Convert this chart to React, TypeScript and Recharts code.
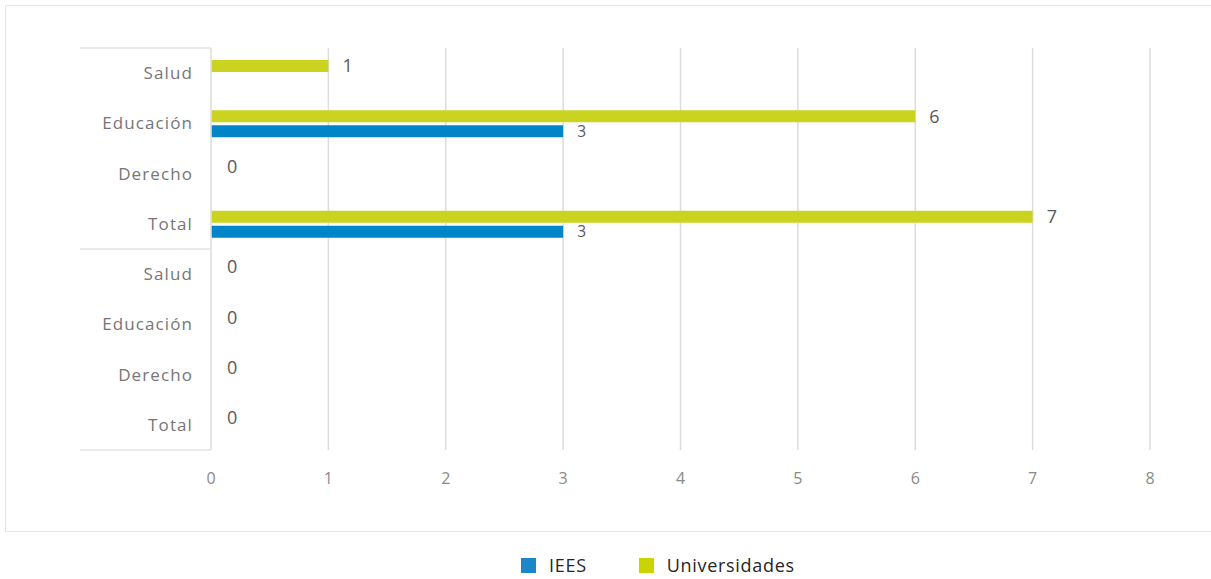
import React from "react";
import { BarChart, Bar, XAxis, YAxis, CartesianGrid, LabelList, Legend } from "recharts";

const categories = ["Salud", "Educación", "Derecho", "Total", "Salud", "Educación", "Derecho", "Total"];
const universidades: (number | null)[] = [1, 6, 0, 7, 0, 0, 0, 0];
const iees: (number | null)[] = [null, 3, null, 3, null, null, null, null];
const xTicks = [0, 1, 2, 3, 4, 5, 6, 7, 8];
const groupBreaks = [0, 3, 7]; // indices with separator lines (0 = top edge, others bottom edge)

const data = categories.map((c, i) => ({
  id: `${i}`,
  name: c,
  Universidades: universidades[i],
  IEES: iees[i],
}));

const W = 1211;
const H = 579;
const M = { top: 48, right: 61, bottom: 65, left: 0 };
const PLOT_H = 402;
const BAND = PLOT_H / categories.length;
const FONT = "'Open Sans', sans-serif";
const YELLOW = "#cad31f";
const BLUE = "#0086c8";

const YTick = (props: any) => {
  const { x, y, payload, index } = props;
  const label = categories[Number(payload.value)];
  const sepX1 = 80;
  const sepX2 = 211;
  return (
    <g>
      <text x={x} y={y} dy={6} textAnchor="end" fill="#767676" fontSize={17} fontFamily={FONT} letterSpacing={1.1}>
        {label}
      </text>
      {index === 0 && <line x1={sepX1} x2={sepX2} y1={y - BAND / 2} y2={y - BAND / 2} stroke="#e3e3e3" strokeWidth={1.5} />}
      {groupBreaks.slice(1).includes(index) && (
        <line x1={sepX1} x2={sepX2} y1={y + BAND / 2} y2={y + BAND / 2} stroke="#e3e3e3" strokeWidth={1.5} />
      )}
    </g>
  );
};

const makeLabel = (size: number) => (props: any) => {
  const { x, y, width, height, value } = props;
  if (value === null || value === undefined) return null;
  return (
    <text x={x + Math.max(width, 0) + 14 + (value === 0 ? 2 : 0)} y={y + height / 2} dy={size * 0.36} fill="#595959" fontSize={size} fontFamily={FONT}>
      {value}
    </text>
  );
};

const LegendContent = () => (
  <div style={{ display: "flex", justifyContent: "flex-start", paddingLeft: 521, fontFamily: FONT, fontSize: 18, color: "#262626", letterSpacing: 0.7 }}>
    {[{ n: "IEES", c: "#1b87c9" }, { n: "Universidades", c: "#cbd300" }].map((it, i) => (
      <div key={it.n} style={{ display: "flex", alignItems: "center", marginRight: i === 0 ? 52 : 0 }}>
        <span style={{ display: "inline-block", width: 15, height: 15, background: it.c, marginRight: 13 }} />
        <span>{it.n}</span>
      </div>
    ))}
  </div>
);

export default function App() {
  return (
    <div style={{ position: "absolute", left: 0, top: 0, width: W, height: H, background: "#fff" }}>
      <div style={{ position: "absolute", left: 5, top: 5, width: 1210, height: 525, border: "1px solid #e6e6e6" }} />
      <div style={{ position: "absolute", left: 0, top: 0 }}>
        <BarChart width={W} height={H} data={data} layout="vertical" margin={M} barSize={12} barGap={3}>
          <CartesianGrid horizontal={false} stroke="#dcdcdc" strokeWidth={1.5} />
          <XAxis
            type="number"
            domain={[0, 8]}
            ticks={xTicks}
            axisLine={false}
            tickLine={false}
            tick={{ fill: "#8a8a8a", fontSize: 16, fontFamily: FONT }}
            tickMargin={17}
            height={40}
          />
          <YAxis
            type="category"
            dataKey="id"
            width={211}
            axisLine={{ stroke: "#e3e3e3", strokeWidth: 1.5 }}
            tickLine={false}
            tick={<YTick />}
            tickMargin={12}
            interval={0}
          />
          <Legend
            verticalAlign="bottom"
            content={<LegendContent />}
            wrapperStyle={{ top: 553, left: 0, width: W, height: 24 }}
          />
          <Bar dataKey="Universidades" fill={YELLOW} isAnimationActive={false} minPointSize={0.001}>
            <LabelList dataKey="Universidades" content={makeLabel(18)} />
          </Bar>
          <Bar dataKey="IEES" fill={BLUE} isAnimationActive={false}>
            <LabelList dataKey="IEES" content={makeLabel(15.5)} />
          </Bar>
        </BarChart>
      </div>
    </div>
  );
}
